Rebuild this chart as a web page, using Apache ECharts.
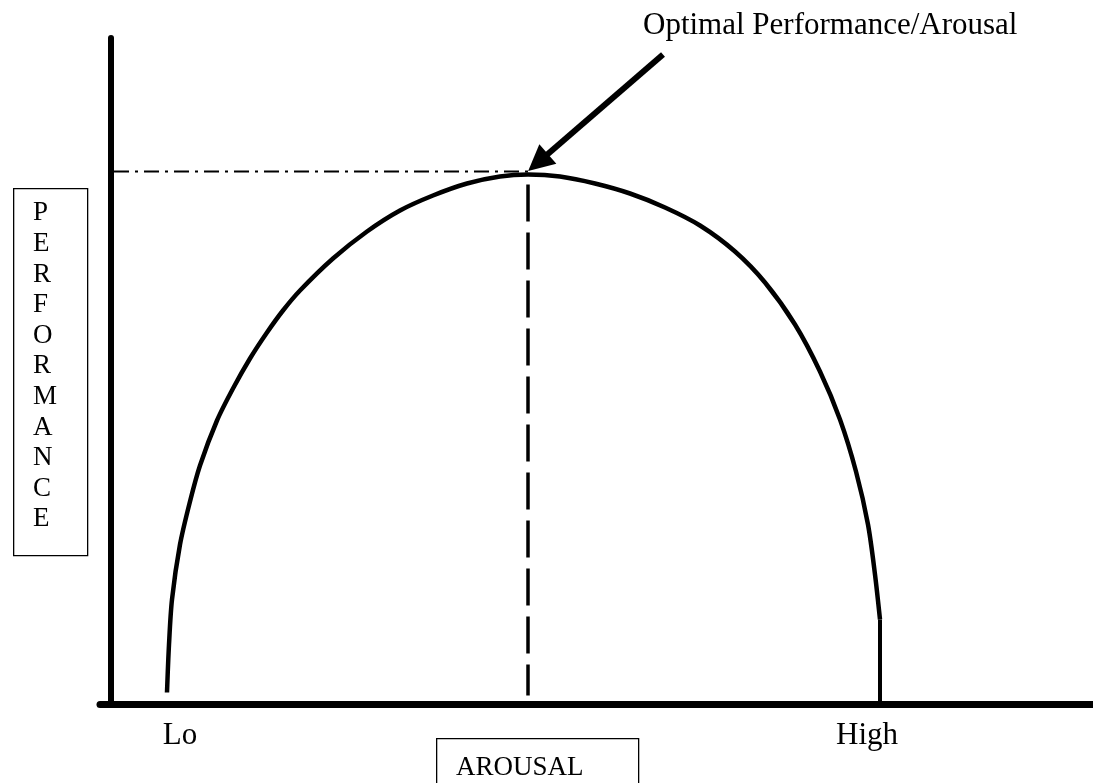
<!DOCTYPE html>
<html>
<head>
<meta charset="utf-8">
<script src="https://cdn.jsdelivr.net/npm/echarts@6/dist/echarts.min.js"></script>
<style>
  html, body { margin: 0; padding: 0; background: #fff; }
  #chart { width: 1093px; height: 783px; }
</style>
</head>
<body>
<div id="chart"></div>
<script>
// arousal (x) and performance (y)
var curveArousal = [5.6, 5.8, 6.1, 6.9, 7.9, 8.9, 10.6, 12.2, 13.9, 15.6, 17.2, 18.9, 22.2, 25.6, 28.9, 32.2, 35.6, 38.9, 41.7,
                    44.9, 48.4, 51.9, 55.4, 58.9, 62.4, 65.4, 68.4, 70.9, 72.9, 74.5, 75.7, 76.4, 76.9];
var curvePerf = [1.2, 6.0, 10.5, 16.0, 20.3, 23.9, 28.4, 31.6, 34.6, 37.2, 39.4, 41.4, 44.6, 47.3, 49.4, 50.9, 52.1, 52.8, 53.0,
                 52.8, 52.1, 51.1, 49.7, 47.9, 45.3, 42.2, 38.0, 33.3, 28.5, 23.3, 18.0, 13.0, 8.5];
var dropArousal = [76.9, 76.9];
var dropPerf = [8.5, 0];

var optimalArousal = 41.7;
var optimalPerf = 53.3;
var dashedTop = 52.0;
var dashedBottom = 0.9;

var arrowFrom = [55.2, 65.0];
var arrowTo = [42.7, 54.2];

var tickLabels = ['Lo', 'High'];
var tickValues = [6.9, 75.6];

var titleText = 'Optimal Performance/Arousal';
var yName = 'PERFORMANCE';
var xName = 'AROUSAL';

function pairs(xs, ys) {
    var out = [];
    for (var i = 0; i < xs.length; i++) out.push([xs[i], ys[i]]);
    return out;
}

var serif = '"Liberation Serif", "Times New Roman", serif';

var chart = echarts.init(document.getElementById('chart'));
var option = {
    animation: false,
    backgroundColor: '#fff',
    grid: { left: 100, right: 0, top: 38, bottom: 78.5 },
    xAxis: {
        type: 'value',
        min: -1.1,
        max: 98.2,
        axisLine: { show: true, onZero: false, lineStyle: { color: '#000', width: 7 } },
        axisTick: { show: false },
        splitLine: { show: false },
        axisLabel: {
            customValues: tickValues,
            margin: 16,
            color: '#000',
            fontFamily: serif,
            fontSize: 31,
            formatter: function (v) {
                var i = tickValues.indexOf(v);
                return i >= 0 ? tickLabels[i] : '';
            }
        }
    },
    yAxis: {
        type: 'value',
        min: 0,
        max: 66.65,
        axisLine: { show: true, onZero: true, lineStyle: { color: '#000', width: 6 } },
        axisTick: { show: false },
        axisLabel: { show: false },
        splitLine: { show: false }
    },
    graphic: [
        {
            type: 'text', left: 643, top: 10,
            style: { text: titleText, font: '31px ' + serif, fill: '#000' }
        },
        {
            type: 'rect', left: 13, top: 188,
            shape: { width: 74, height: 367 },
            style: { fill: '#fff', stroke: '#000', lineWidth: 1.3 }
        },
        {
            type: 'text', left: 33, top: 198,
            style: { text: yName.split('').join('\n'), font: '27px ' + serif, lineHeight: 30.6, fill: '#000' }
        },
        {
            type: 'rect', left: 436, top: 738,
            shape: { width: 202, height: 60 },
            style: { fill: '#fff', stroke: '#000', lineWidth: 1.3 }
        },
        {
            type: 'text', left: 456, top: 754,
            style: { text: xName, font: '27px ' + serif, fill: '#000' }
        }
    ],
    series: [
        {
            type: 'line',
            data: [[0.3, optimalPerf], [optimalArousal, optimalPerf]],
            showSymbol: false,
            lineStyle: { color: '#000', width: 2, type: [15, 6, 3, 6] }
        },
        {
            type: 'line',
            data: [[optimalArousal, dashedTop], [optimalArousal, dashedBottom]],
            showSymbol: false,
            lineStyle: { color: '#000', width: 3.5, type: [37, 11] }
        },
        {
            type: 'line',
            data: pairs(curveArousal, curvePerf),
            smooth: 0.3,
            showSymbol: false,
            lineStyle: { color: '#000', width: 4.5 }
        },
        {
            type: 'line',
            data: pairs(dropArousal, dropPerf),
            showSymbol: false,
            lineStyle: { color: '#000', width: 4 }
        },
        {
            type: 'lines',
            coordinateSystem: 'cartesian2d',
            symbol: ['none', 'triangle'],
            symbolSize: [20, 26],
            lineStyle: { color: '#000', width: 6, opacity: 1 },
            data: [{ coords: [arrowFrom, arrowTo] }]
        }
    ]
};

chart.setOption(option);
</script>
</body>
</html>
